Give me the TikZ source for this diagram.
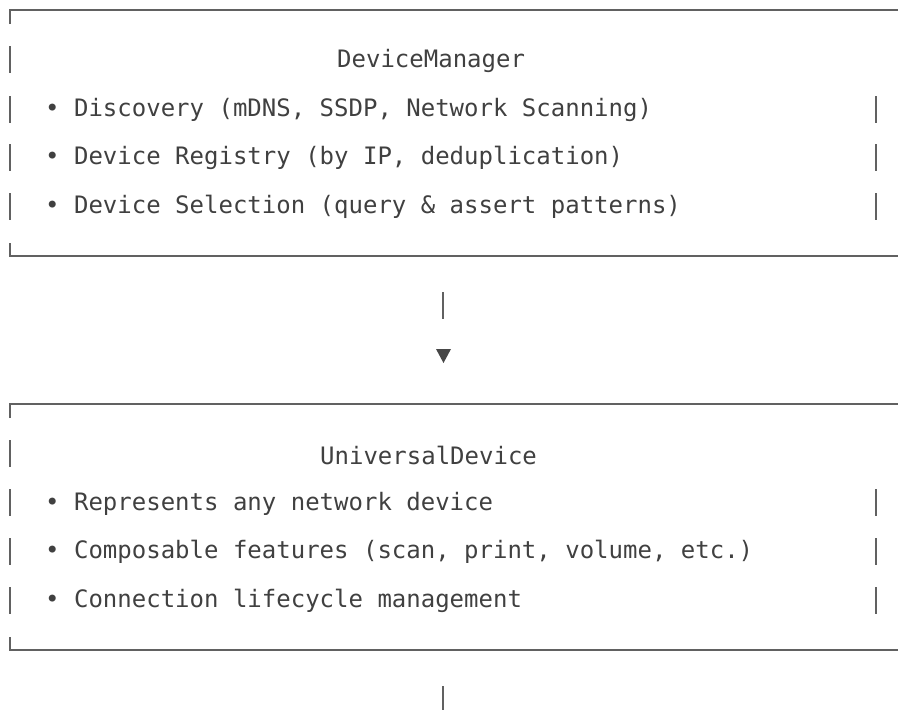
\documentclass[tikz,border=0pt]{standalone}
\usepackage{fontspec}
\setmonofont{DejaVu Sans Mono}
\usetikzlibrary{positioning}

\begin{document}
\begin{tikzpicture}[x=1pt, y=-1pt]
\tikzstyle{rule} = [draw=black!62, line width=1.4pt]
\tikzstyle{bar} = [draw=black!62, line width=1.2pt]
\tikzstyle{head} = [fill=black!72]
\tikzstyle{content} = [anchor=west, inner sep=0pt, text=black!75,
  font=\ttfamily\fontsize{24}{28}\selectfont]
\useasboundingbox (0,0) rectangle (898,710);

% DeviceManager
\coordinate (mgr) at (10,10);
\draw[rule] (mgr) ++(0,14) -- (mgr) -- ++(888,0);
\draw[rule] (mgr) ++(0,233) -- ++(0,13) -- ++(888,0);
\node[content] (mgrtitle) at (337,61) {DeviceManager};
\node[content] (mgrone) at (45,110) {• Discovery (mDNS, SSDP, Network Scanning)};
\node[content] (mgrtwo) at (45,158) {• Device Registry (by IP, deduplication)};
\node[content] (mgrthree) at (45,207) {• Device Selection (query \& assert patterns)};
\foreach \y in {60,110,158,207}
  \draw[bar] (10,{\y-14}) -- (10,{\y+13});
\foreach \y in {110,158,207}
  \draw[bar] (876,{\y-14}) -- (876,{\y+13});

% arrow down
\coordinate (stem) at (443,292);
\coordinate (tip) at (443.5,363);
\draw[bar] (stem) -- ++(0,27);
\fill[head] (tip) -- ++(-7.5,-14) -- ++(15,0) -- cycle;

% UniversalDevice
\coordinate (dev) at (10,404);
\draw[rule] (dev) ++(0,14) -- (dev) -- ++(888,0);
\draw[rule] (dev) ++(0,233) -- ++(0,13) -- ++(888,0);
\node[content] (devtitle) at (320,455) {UniversalDevice};
\node[content] (devone) at (45,504) {• Represents any network device};
\node[content] (devtwo) at (45,552) {• Composable features (scan, print, volume, etc.)};
\node[content] (devthree) at (45,601) {• Connection lifecycle management};
\foreach \y in {454,503,552,601}
  \draw[bar] (10,{\y-14}) -- (10,{\y+13});
\foreach \y in {503,552,601}
  \draw[bar] (876,{\y-14}) -- (876,{\y+13});

\coordinate (next) at (443,686);
\draw[bar] (next) -- ++(0,24);
\end{tikzpicture}
\end{document}
